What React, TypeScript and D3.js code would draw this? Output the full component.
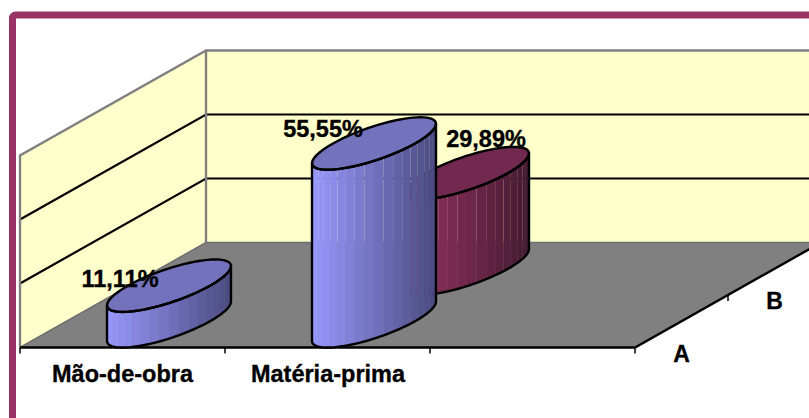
import React from "react";
import * as d3 from "d3";

const categories = ["Mão-de-obra", "Matéria-prima", ""];
const seriesNames = ["A", "B"];
const seriesA = [11.11, 55.55, null];
const seriesB = [null, 29.89, null];
const valueTicks = [0, 20, 40, 60];
const valueLabels = ["11,11%", "55,55%", "29,89%"];

const WIDTH = 809;
const HEIGHT = 418;

// Oblique projection: category runs along x, series recede up and to the right.
const catScale = d3.scaleBand<string>().domain(categories).range([20, 635]).paddingInner(0).paddingOuter(0);
const depthScale = d3.scaleLinear().domain([0, seriesNames.length]).range([0, 1]);
const valueScale = d3.scaleLinear().domain([0, 60]).range([0, 192]);
const DEPTH_DX = 186;
const DEPTH_DY = -105;
const FRONT_Y = 347.5;
const BAR_WIDTH = catScale.bandwidth() / 2.5;

function project(x: number, depth: number, value: number): [number, number] {
  const f = depthScale(depth);
  return [x + f * DEPTH_DX, FRONT_Y + f * DEPTH_DY - valueScale(value)];
}

const X0 = 20;
const X1 = 635;

function poly(pts: [number, number][]) {
  return (d3.line()(pts) as string) + "Z";
}

type Colors = { light: string; dark: string; top: string };
const BLUE: Colors = { light: "#9999ff", dark: "#4a4a80", top: "#7373bd" };
const MAROON: Colors = { light: "#993366", dark: "#451b30", top: "#72294f" };

function Cylinder({ category, series, value, colors }: { category: string; series: number; value: number; colors: Colors }) {
  const cx0 = (catScale(category) as number) + catScale.bandwidth() / 2;
  const [cx, baseY] = project(cx0, series + 0.5, 0);
  const h = valueScale(value);
  const a = BAR_WIDTH / 2;
  const halfDepth = depthScale(0.5);
  const b = halfDepth * DEPTH_DX;
  const c = halfDepth * -DEPTH_DY;
  const at = (t: number, y: number): [number, number] => [cx + a * Math.cos(t) + b * Math.sin(t), y - c * Math.sin(t)];
  const t0 = Math.atan2(b, a);
  const steps = 20;
  const ts = d3.range(steps + 1).map((i) => t0 - Math.PI + (Math.PI * i) / steps);
  const xMin = at(ts[0], baseY)[0];
  const xMax = at(ts[steps], baseY)[0];
  const shade = d3.scaleLinear<string>().domain([xMin, xMax]).range([colors.light, colors.dark]);
  const topY = baseY - h;
  const ellipse = d3.range(73).map((i) => at((i / 72) * 2 * Math.PI, topY));
  const fine = d3.range(61).map((i) => t0 - Math.PI + (Math.PI * i) / 60);
  const outline = [...fine.map((t) => at(t, topY)), ...fine.map((t) => at(t, baseY)).reverse()];
  return (
    <g>
      {ts.slice(0, -1).map((t, i) => {
        const p0 = at(t, baseY);
        const p1 = at(ts[i + 1], baseY);
        const q0 = at(t, topY);
        const q1 = at(ts[i + 1], topY);
        return <path key={i} d={poly([q0, q1, p1, p0])} fill={shade((p0[0] + p1[0]) / 2)} />;
      })}
      <path d={poly(ellipse)} fill={colors.top} stroke="#000" strokeWidth={2.4} />
      <path d={poly(outline)} fill="none" stroke="#000" strokeWidth={2.4} strokeLinejoin="round" />
    </g>
  );
}

const labelFont = { fontFamily: "'Liberation Sans', Arial, sans-serif", fontWeight: 700, fill: "#000", stroke: "#000", strokeWidth: 0.35 } as const;

function Label({ x, y, text, size }: { x: number; y: number; text: string; size: number }) {
  return (
    <text x={x} y={y} textAnchor="middle" fontSize={size} {...labelFont}>
      {text}
    </text>
  );
}

export default function App() {
  const catEdges = [...categories.map((c) => catScale(c) as number), X1];
  const top = valueTicks[valueTicks.length - 1];
  const grid = valueTicks.slice(1, -1);
  return (
    <svg width={WIDTH} height={HEIGHT} viewBox={`0 0 ${WIDTH} ${HEIGHT}`} style={{ position: "absolute", left: 0, top: 0, display: "block", background: "#fff" }}>
      {/* outer frame runs past the right and bottom edges */}
      <rect x={12.5} y={15} width={WIDTH + 40} height={HEIGHT + 40} rx={3} fill="#fff" stroke="#993366" strokeWidth={7} />

      {/* walls and floor */}
      <path d={poly([project(X0, 0, top), project(X0, 2, top), project(X0, 2, 0), project(X0, 0, 0)])} fill="#ffffcc" />
      <path d={poly([project(X0, 2, top), project(X1, 2, top), project(X1, 2, 0), project(X0, 2, 0)])} fill="#ffffcc" />
      <path d={poly([project(X0, 0, 0), project(X1, 0, 0), project(X1, 2, 0), project(X0, 2, 0)])} fill="#808080" />

      {/* value gridlines on both walls */}
      {grid.map((v) => (
        <path key={v} d={d3.line()([project(X0, 0, v), project(X0, 2, v), project(X1, 2, v)]) as string} fill="none" stroke="#000" strokeWidth={2.2} />
      ))}

      {/* wall borders */}
      <path d={d3.line()([project(X0, 0, 0), project(X0, 0, top), project(X0, 2, top), project(X1, 2, top)]) as string} fill="none" stroke="#808080" strokeWidth={2.4} />
      <path d={d3.line()([project(X0, 2, top), project(X0, 2, 0)]) as string} fill="none" stroke="#808080" strokeWidth={2.4} />
      <path d={d3.line()([project(X0, 0, 0), project(X0, 2, 0), project(X1, 2, 0)]) as string} fill="none" stroke="#6e6e6e" strokeWidth={1.5} />

      {/* axes with tick marks */}
      <path d={d3.line()([project(X0, 0, 0), project(X1, 0, 0), project(X1, 2, 0)]) as string} fill="none" stroke="#000" strokeWidth={2.4} />
      {catEdges.map((x) => (
        <line key={x} x1={x} x2={x} y1={FRONT_Y} y2={FRONT_Y + 6} stroke="#000" strokeWidth={1.5} />
      ))}
      {[1, 2].map((d) => {
        const [x, y] = project(X1, d, 0);
        return <line key={d} x1={x} x2={x} y1={y} y2={y + 6} stroke="#000" strokeWidth={1.5} />;
      })}

      {/* cylinders, back row first */}
      {categories.map((c, i) =>
        seriesB[i] == null ? null : <Cylinder key={c} category={c} series={1} value={seriesB[i] as number} colors={MAROON} />
      )}
      {categories.map((c, i) =>
        seriesA[i] == null ? null : <Cylinder key={c} category={c} series={0} value={seriesA[i] as number} colors={BLUE} />
      )}

      {/* data labels */}
      <Label x={120} y={287} text={valueLabels[0]} size={23.5} />
      <Label x={323} y={137} text={valueLabels[1]} size={23.5} />
      <Label x={486} y={147} text={valueLabels[2]} size={23.5} />

      {/* category and series labels */}
      <Label x={122.5} y={382} text={categories[0]} size={23.5} />
      <Label x={328} y={382} text={categories[1]} size={23.5} />
      <Label x={681.5} y={362} text={seriesNames[0]} size={23} />
      <Label x={774.5} y={309} text={seriesNames[1]} size={23} />
    </svg>
  );
}
